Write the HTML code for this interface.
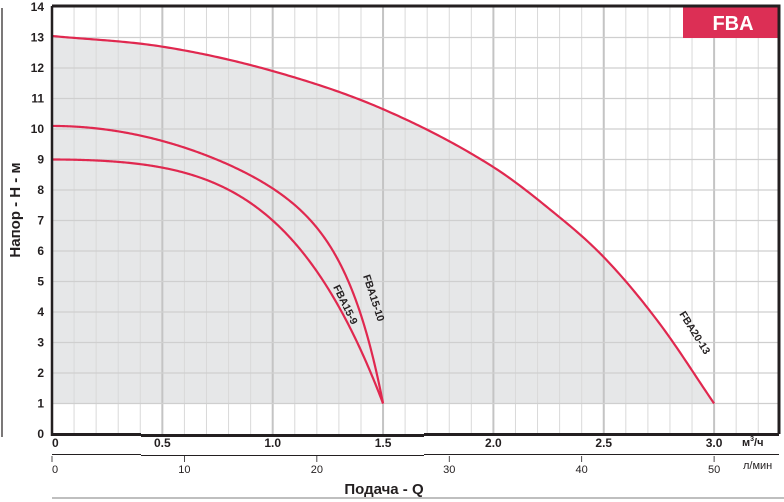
<!DOCTYPE html>
<html><head><meta charset="utf-8"><style>
html,body{margin:0;padding:0;background:#fff;}
svg{display:block;font-family:"Liberation Sans",sans-serif;}
</style></head><body>
<svg id="s" width="784" height="502" viewBox="0 0 784 502" xmlns="http://www.w3.org/2000/svg">
<path id="shade" fill="#e6e7e8" stroke="none"/>
<g id="grid2"></g>
<path id="c1" fill="none" stroke="#e0284f" stroke-width="2.2"/>
<path id="c2" fill="none" stroke="#e0284f" stroke-width="2.2"/>
<path id="c3" fill="none" stroke="#e0284f" stroke-width="2.2"/>
<rect x="683" y="7" width="96" height="31" fill="#dc2f55"/>
<text x="733" y="30" font-size="20" font-weight="bold" fill="#fff" text-anchor="middle">FBA</text>
<path d="M52,6 H779 V434" fill="none" stroke="#231f20" stroke-width="3"/>
<line x1="52" y1="6" x2="52" y2="436" stroke="#231f20" stroke-width="2.5"/>
<path d="M52,434.5 H141 M424,434.5 H779" stroke="#231f20" stroke-width="3"/>
<path d="M141,435.5 H424" stroke="#231f20" stroke-width="3"/>
<line x1="2" y1="8" x2="2" y2="437" stroke="#231f20" stroke-width="1.2"/>
<path d="M52,454.5 H141 M424,454.5 H636 M141,455.5 H424 M636,454.5 H779" stroke="#231f20" stroke-width="1"/>
<line x1="52" y1="498" x2="784" y2="498" stroke="#999" stroke-width="1.2"/>
<g id="labels" font-weight="bold" font-size="12" fill="#231f20"></g>
<text transform="translate(20,210) rotate(-90)" font-size="15" font-weight="bold" text-anchor="middle" fill="#231f20">Напор - H - м</text>
<text x="384" y="494" font-size="15" font-weight="bold" text-anchor="middle" fill="#231f20">Подача - Q</text>
<text x="742" y="446" font-size="11" font-weight="bold" fill="#231f20">м<tspan font-size="7" dy="-5">3</tspan><tspan dy="5">/ч</tspan></text>
<text x="743" y="469" font-size="11" fill="#231f20">л/мин</text>
<text transform="translate(333,287) rotate(64)" font-size="10.5" font-weight="bold" fill="#231f20">FBA15-9</text>
<text transform="translate(363,276) rotate(72)" font-size="10.5" font-weight="bold" fill="#231f20">FBA15-10</text>
<text transform="translate(679,314) rotate(58)" font-size="10.5" font-weight="bold" fill="#231f20">FBA20-13</text>
</svg>
<script>
const NS="http://www.w3.org/2000/svg";
const X=q=>52+220.7*q, Y=h=>434-30.5*h;
function el(p,t,a,txt){const e=document.createElementNS(NS,t);for(const k in a)e.setAttribute(k,a[k]);if(txt!=null)e.textContent=txt;p.appendChild(e);return e;}
const g2=document.getElementById('grid2'), S=document.getElementById('s');
for(let i=1;i<33;i++){const x=X(i*0.1);if(x>=778)break;const major=i%5==0;
 el(g2,'line',{x1:x,y1:7,x2:x,y2:434,stroke:major?'#c4c4c4':'#d9d9d9','stroke-width':major?2:1});}
for(let h=1;h<14;h++){el(g2,'line',{x1:52,y1:Y(h),x2:779,y2:Y(h),stroke:'#cfcfcf','stroke-width':1.2});}
function mono(xs,ys){const n=xs.length,d=[],m=[];for(let i=0;i<n-1;i++)d.push((ys[i+1]-ys[i])/(xs[i+1]-xs[i]));
 m[0]=d[0];m[n-1]=d[n-2];for(let i=1;i<n-1;i++)m[i]=d[i-1]*d[i]<=0?0:(d[i-1]+d[i])/2;
 return x=>{let i=0;while(i<n-2&&x>xs[i+1])i++;const h=xs[i+1]-xs[i],t=(x-xs[i])/h,t2=t*t,t3=t2*t;
 return (2*t3-3*t2+1)*ys[i]+(t3-2*t2+t)*h*m[i]+(-2*t3+3*t2)*ys[i+1]+(t3-t2)*h*m[i+1];};}
const fb=mono([0,0.5,1,1.5,2,2.25,2.5,2.75,3],[13.05,12.7,11.9,10.65,8.75,7.4,5.8,3.65,1.0]);
function path(f,qmax){let d='';for(let k=0;k<=300;k++){const q=qmax*k/300;d+=(k?'L':'M')+X(q).toFixed(2)+','+Y(f(q)).toFixed(2);}return d;}
const d1=path(fb,3);
document.getElementById('c1').setAttribute('d',d1);
document.getElementById('shade').setAttribute('d',`M${X(0)},${Y(1)} L`+d1.slice(1)+` L${X(3)},${Y(1)} Z`);
const f10=q=>10.1-1.969*q*q-0.081*Math.pow(q,10);
const f9=q=>9.0-0.755*q*q-1.245*Math.pow(q,4);
document.getElementById('c2').setAttribute('d',path(f10,1.5));
document.getElementById('c3').setAttribute('d',path(f9,1.5));
const L=document.getElementById('labels');
for(let h=0;h<=14;h++)el(L,'text',{x:44,y:Y(h)+4,'text-anchor':'end'},String(h));
['0','0.5','1.0','1.5','2.0','2.5','3.0'].forEach((t,i)=>el(L,'text',{x:i==0?52:X(i*0.5),y:447,'text-anchor':i==0?'start':'middle'},t));
for(let l=0;l<=50;l+=10){const x=X(l*0.06);el(S,'line',{x1:x,y1:456,x2:x,y2:462,stroke:'#231f20','stroke-width':0.8});
 el(S,'text',{x:l==0?52:x,y:473,'text-anchor':l==0?'start':'middle','font-size':11,fill:'#231f20'},String(l));}
</script>
</body></html>
